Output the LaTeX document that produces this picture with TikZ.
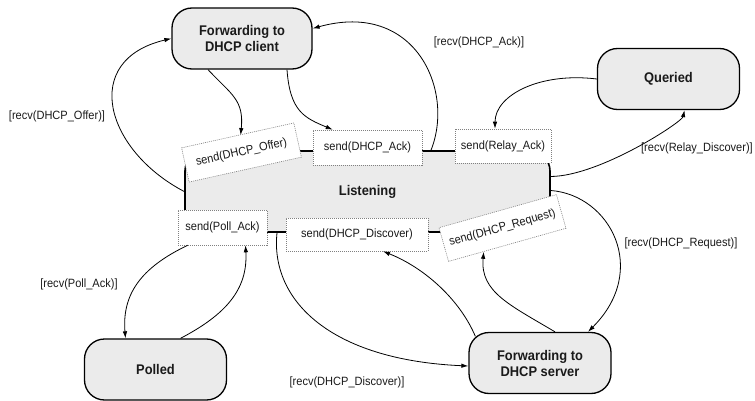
\documentclass[tikz,border=0pt]{standalone}
\usepackage{fontspec}
\setmainfont{Liberation Sans}[FakeStretch=0.92]
\usetikzlibrary{arrows.meta,calc}

\definecolor{statefill}{HTML}{EBEBEB}
\definecolor{ink}{HTML}{1A1A1A}

\tikzset{
  state/.style={draw=black, line width=1.3pt, fill=statefill, rounded corners=20pt,
    minimum width=142pt, minimum height=61pt, align=center, inner sep=0pt,
    font=\fontsize{14}{16}\selectfont\bfseries, text=ink},
  hub/.style={draw=black, line width=1.6pt, fill=statefill, rounded corners=20pt,
    minimum width=365pt, minimum height=81pt, inner sep=0pt,
    font=\fontsize{14}{16}\selectfont\bfseries, text=ink},
  sendbox/.style={draw=gray, dash pattern=on 1pt off 1pt, line width=0.6pt, fill=white,
    minimum height=35pt, inner sep=0pt, font=\fontsize{12}{14}\selectfont, text=ink},
  guard/.style={font=\fontsize{12}{14}\selectfont, text=ink, inner sep=0pt},
  trans/.style={line width=0.8pt, -{Latex[length=7pt,width=4.5pt]}},
}

\begin{document}
\begin{tikzpicture}[x=1pt,y=-1pt]
  \useasboundingbox (0,0) rectangle (755,401);

  % central state with its send actions on the border
  \node[hub] (listen) at (367.5,191.5) {Listening};

  \node[sendbox, minimum width=115pt, rotate=12.5] (offer)    at (241.5,152.5) {send(DHCP\_Offer)};
  \node[sendbox, minimum width=109pt]              (ack)      at (367.5,147.5) {send(DHCP\_Ack)};
  \node[sendbox, minimum width=96pt, minimum height=34pt] (relay) at (503,146) {send(Relay\_Ack)};
  \node[sendbox, minimum width=89pt]               (poll)     at (222.5,227.5) {send(Poll\_Ack)};
  \node[sendbox, minimum width=142pt, minimum height=33pt] (discover) at (357,234.5) {send(DHCP\_Discover)};
  \node[sendbox, minimum width=122pt, rotate=15.75] (request) at (502.5,228) {send(DHCP\_Request)};

  % surrounding states
  \node[state, minimum width=140pt] (client) at (242,38.5)  {Forwarding to\\DHCP client};
  \node[state] (queried) at (668.5,79)   {Queried};
  \node[state] (polled)  at (155.5,369.5) {Polled};
  \node[state] (server)  at (540,363)    {Forwarding to\\DHCP server};

  % guards
  \node[guard] (gack)      at (479,42)   {[recv(DHCP\_Ack)]};
  \node[guard] (goffer)    at (57,116)   {[recv(DHCP\_Offer)]};
  \node[guard, anchor=east] (grelay) at (753,148) {[recv(Relay\_Discover)]};
  \node[guard] (grequest)  at (681,243)  {[recv(DHCP\_Request)]};
  \node[guard] (gpoll)     at (79,284)   {[recv(Poll\_Ack)]};
  \node[guard] (gdiscover) at (347,382)  {[recv(DHCP\_Discover)]};

  % transitions
  \draw[trans] (listen.west) .. controls (105,150) and (80,60) .. (client.west);
  \draw[trans] ($(client.south)+(-34,0)$) .. controls (232,95) and (244,100) .. ($(offer.north)+(3,0)$);
  \draw[trans] ($(client.south)+(45,0)$) .. controls (290,112) and (305,118) .. ($(ack.north west)+(20,0)$);
  \draw[trans] ($(listen.north)+(63.5,0)$) .. controls (455,90) and (415,0) .. ($(client.east)+(0,-10)$);

  \draw[trans] (queried.west) .. controls (540,72) and (495,95) .. ($(relay.north)+(-8,0)$);
  \draw[trans] ($(listen.east)+(0,-15)$) .. controls (600,176) and (682,122) .. ($(queried.south)+(16,0)$);

  \draw[trans] ($(listen.east)+(0,-1)$) .. controls (610,195) and (650,270) .. ($(server.north)+(48,0)$);
  \draw[trans] ($(server.north)+(15,0)$) .. controls (510,305) and (480,292) .. ($(request.south west)!0.3!(request.south east)$);
  \draw[trans] ($(server.north west)+(7,4.5)$) .. controls (460,300) and (425,268) .. ($(discover.south)+(26,0)$);
  \draw[trans] ($(listen.south)+(-90.5,0)$) .. controls (270,300) and (330,360) .. ($(server.west)+(0,3)$);

  \draw[trans] ($(poll.south west)+(10,0)$) .. controls (140,268) and (122,295) .. ($(polled.north)+(-30,0)$);
  \draw[trans] ($(polled.north)+(25,0)$) .. controls (225,315) and (248,290) .. ($(poll.south)+(23,0)$);
\end{tikzpicture}
\end{document}
